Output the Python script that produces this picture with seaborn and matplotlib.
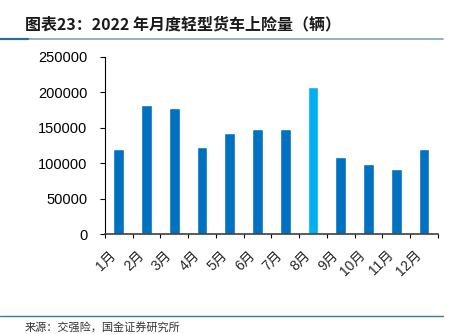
import matplotlib
matplotlib.use("Agg")
import matplotlib.pyplot as plt
import seaborn as sns
import pandas as pd
from matplotlib.lines import Line2D
from matplotlib.ticker import FixedLocator

months = ["1月", "2月", "3月", "4月", "5月", "6月", "7月", "8月", "9月", "10月", "11月", "12月"]
values = [119500, 182500, 177500, 122500, 143000, 148000, 148000, 208000, 109000, 99000, 92000, 119500]
colors = ["#0070C0"] * 7 + ["#00B0F0"] + ["#0070C0"] * 4
yticks = [0, 50000, 100000, 150000, 200000, 250000]

title = "图表23：2022 年月度轻型货车上险量（辆）"
source = "来源：交强险，国金证券研究所"

sns.set_style("white")
plt.rcParams["font.family"] = ["Liberation Sans", "Noto Sans CJK SC", "DejaVu Sans"]

df = pd.DataFrame({"month": months, "value": values})

fig = plt.figure(figsize=(4.6, 3.34), dpi=100)
ax = fig.add_axes([0.228, 0.299, 0.724, 0.531])

sns.barplot(data=df, x="month", y="value", hue="month", palette=colors,
            legend=False, width=0.39, ax=ax, saturation=1)

ax.set_ylim(0, 250000)
ax.set_yticks(yticks)
ax.set_yticklabels([str(v) for v in yticks], fontsize=10.5)
ax.set_xlim(-0.5, len(months) - 0.5)
ax.set_xlabel("")
ax.set_ylabel("")
for s in ["top", "right"]:
    ax.spines[s].set_visible(False)
ax.spines["left"].set_color("#000000")
ax.spines["left"].set_linewidth(0.8)
ax.spines["bottom"].set_color("#404040")
ax.spines["bottom"].set_linewidth(1.2)

ax.tick_params(axis="y", which="major", direction="out", length=3.6, width=0.8, left=True, pad=9, colors="#000000")
ax.tick_params(axis="x", which="major", length=0, pad=10)
ax.xaxis.set_minor_locator(FixedLocator([i - 0.5 for i in range(len(months) + 1)]))
ax.tick_params(axis="x", which="minor", direction="out", length=3, width=0.8, bottom=True, colors="#000000")
for lab in ax.get_xticklabels():
    lab.set_rotation(45)
    lab.set_ha("right")
    lab.set_fontsize(10)

fig.text(0.054, 0.928, title, fontsize=11.5, fontweight="bold", color="#1a1a1a",
         family=["Noto Sans CJK SC", "DejaVu Sans"], va="center", ha="left")
fig.add_artist(Line2D([0, 443 / 460], [1 - 39 / 334] * 2, transform=fig.transFigure,
                      color="#7fa3c0", linewidth=1.2))
fig.add_artist(Line2D([0, 28 / 460], [1 - 39 / 334] * 2, transform=fig.transFigure,
                      color="#2e6a9a", linewidth=1.6))
fig.add_artist(Line2D([0, 443 / 460], [1 - 316 / 334] * 2, transform=fig.transFigure,
                      color="#3a78a8", linewidth=1.0))
fig.text(0.054, 1 - 327 / 334, source, fontsize=8, color="#333333",
         family=["Noto Sans CJK SC", "DejaVu Sans"], va="center", ha="left")

fig.savefig("out.png", dpi=100)
